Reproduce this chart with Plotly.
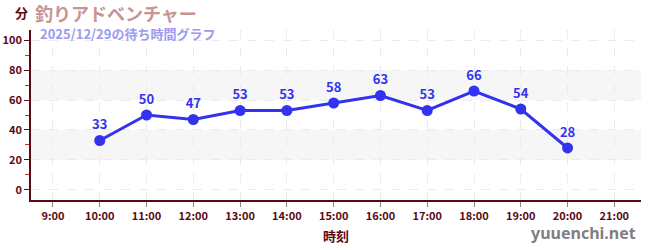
import plotly.graph_objects as go

hours = [10, 11, 12, 13, 14, 15, 16, 17, 18, 19, 20]
waits = [33, 50, 47, 53, 53, 58, 63, 53, 66, 54, 28]
tick_hours = list(range(9, 22))
tick_labels = [f"{h}:00" for h in tick_hours]
y_ticks = [0, 20, 40, 60, 80, 100]
bands = [(20, 40), (60, 80)]

dark = "#5a0a14"
font = "Noto Sans CJK JP"

fig = go.Figure()
fig.add_trace(go.Scatter(
    x=hours, y=waits, mode="lines+markers+text",
    text=[str(v) for v in waits], textposition="top center",
    textfont=dict(color="#3333ee", size=13, family=font, weight="bold"),
    line=dict(color="#3333ee", width=3),
    marker=dict(color="#3333ee", size=11),
    cliponaxis=False, hoverinfo="skip",
))
for lo, hi in bands:
    fig.add_shape(type="rect", xref="paper", x0=0, x1=1, yref="y", y0=lo, y1=hi,
                  fillcolor="#f6f6f6", line_width=0, layer="below")

fig.update_layout(
    width=650, height=250,
    margin=dict(l=31, r=9, t=30, b=50, autoexpand=False),
    plot_bgcolor="white", paper_bgcolor="white",
    showlegend=False,
    font=dict(family=font, color=dark),
    xaxis=dict(
        range=[8.53, 21.57], tickvals=tick_hours, ticktext=tick_labels,
        tickfont=dict(size=11, color=dark, weight="bold"), automargin=False,
        showgrid=True, gridcolor="#ebebeb", griddash="dash", gridwidth=1,
        showline=True, linecolor=dark, linewidth=1.5,
        ticks="outside", ticklen=5, tickcolor="#888888", zeroline=False,
        title=dict(text="時刻", font=dict(size=13, color=dark, weight="bold"), standoff=10),
    ),
    yaxis=dict(
        range=[-6.7, 106.7], tickvals=y_ticks, automargin=False,
        tickfont=dict(size=11, color=dark, weight="bold"),
        showgrid=True, gridcolor="#ebebeb", griddash="dash", gridwidth=1,
        showline=True, linecolor=dark, linewidth=1.5,
        ticks="outside", ticklen=5, tickcolor=dark, zeroline=False,
        minor=dict(tickvals=[10, 30, 50, 70, 90], ticks="outside", ticklen=4,
                   tickcolor="#dd2222", showgrid=False),
    ),
)
fig.add_annotation(text="分", xref="paper", yref="paper", x=-0.03, y=1.0, xanchor="left",
                   yanchor="bottom", yshift=6, showarrow=False,
                   font=dict(size=13, color=dark, weight="bold"))
fig.add_annotation(text="釣りアドベンチャー", xref="paper", yref="paper", x=0.004, y=1.0,
                   xanchor="left", yanchor="bottom", yshift=2, showarrow=False,
                   font=dict(size=18, color="#c89494", weight="bold"))
fig.add_annotation(text="2025/12/29の待ち時間グラフ", xref="paper", yref="paper", x=0.012, y=1.0,
                   xanchor="left", yanchor="top", yshift=8, showarrow=False,
                   font=dict(size=13, color="#9b9bf0", weight="bold"))
fig.add_annotation(text="yuuenchi.net", xref="paper", yref="paper", x=0.995, y=-0.194,
                   xanchor="right", yanchor="middle", showarrow=False,
                   font=dict(size=16, color="#7f7f7f", family="Noto Sans", weight="bold"))
fig.write_html("out.html")
